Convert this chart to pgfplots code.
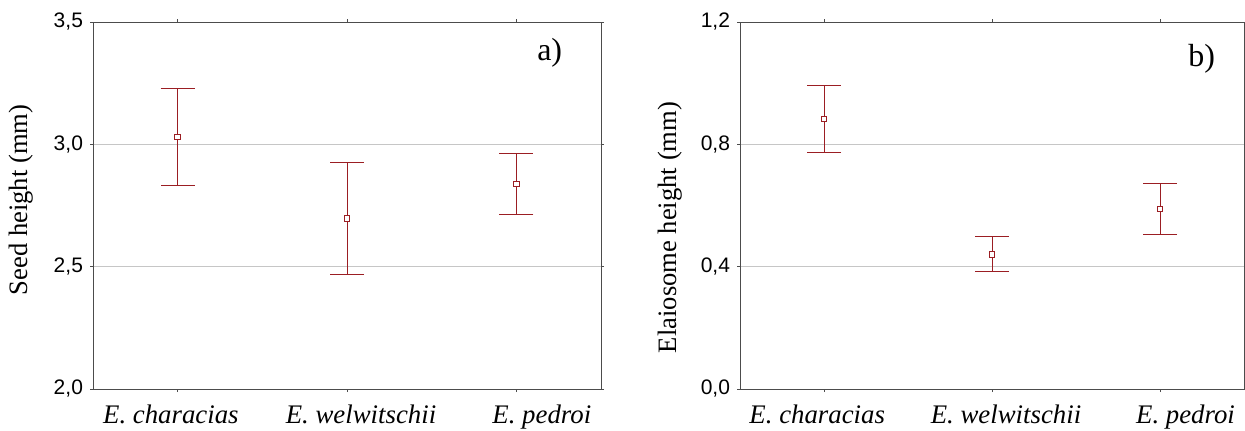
\documentclass[border=0pt]{standalone}
\usepackage{fontspec}
\setmainfont{Liberation Serif}
\newfontfamily\arial{Liberation Sans}
\usepackage{pgfplots}
\pgfplotsset{compat=1.18}
\definecolor{barred}{RGB}{155,30,35}
\pgfplotsset{
  panel/.style={
    scale only axis,
    height=183.5pt,
    xmin=-0.5, xmax=2.5,
    xtick={0,1,2},
    xticklabels={\textit{E. characias}\hspace*{6.8pt},\hspace*{14pt}\textit{E. welwitschii},\hspace*{25.5pt}\textit{E. pedroi}},
    tick align=outside,
    major tick length=1.5pt,
    tick style={black!70, line width=0.5pt},
    axis line style={black!70, line width=0.5pt},
    ymajorgrids,
    grid style={gray!45, line width=0.4pt},
    /pgf/number format/use comma,
    /pgf/number format/fixed,
    /pgf/number format/fixed zerofill,
    /pgf/number format/precision=1,
    /pgf/number format/assume math mode=true,
    yticklabel style={font=\arial\fontsize{10.5}{12}\selectfont},
    xticklabel style={font=\fontsize{13.4}{15}\selectfont, yshift=-3pt},
    ylabel style={font=\fontsize{13.3}{15}\selectfont, at={(axis description cs:0,0.5)}, anchor=center},
  },
  ebar/.style={
    color=barred, draw=barred, line width=0.5pt,
    mark=square*, mark size=1.4pt,
    mark options={fill=white, draw=barred, line width=0.5pt, solid},
    only marks,
    error bars/.cd, y dir=both, y explicit,
    error bar style={color=barred, draw=barred, line width=0.5pt},
    error mark options={color=barred, draw=barred, mark size=8.5pt, line width=0.5pt, rotate=90},
  },
}
\begin{document}
\begin{tikzpicture}
\useasboundingbox (0,0) rectangle (622.5pt,215pt);
\begin{axis}[panel,
  at={(46.5pt,20.5pt)}, anchor=south west,
  width=254pt,
  ymin=2.0, ymax=3.5, ytick={2.0,2.5,3.0,3.5},
  ylabel={Seed height (mm)},
  ylabel style={xshift=2.75pt, yshift=35.8pt},
]
\addplot[ebar] coordinates {
  (0,3.030) += (0,0.200) -= (0,0.198)
  (1,2.696) += (0,0.231) -= (0,0.230)
  (2,2.838) += (0,0.124) -= (0,0.124)
};
\node[font=\fontsize{16}{18}\selectfont] at (axis description cs:0.899,0.915) {a)};
\end{axis}
\begin{axis}[panel,
  at={(370pt,20.5pt)}, anchor=south west,
  width=252pt,
  ymin=0.0, ymax=1.2, ytick={0.0,0.4,0.8,1.2},
  ylabel={Elaiosome height (mm)},
  ylabel style={xshift=-11pt, yshift=35pt},
]
\addplot[ebar] coordinates {
  (0,0.883) += (0,0.111) -= (0,0.109)
  (1,0.440) += (0,0.058) -= (0,0.057)
  (2,0.588) += (0,0.083) -= (0,0.082)
};
\node[font=\fontsize{16}{18}\selectfont] at (axis description cs:0.916,0.9) {b)};
\end{axis}
\end{tikzpicture}
\end{document}
